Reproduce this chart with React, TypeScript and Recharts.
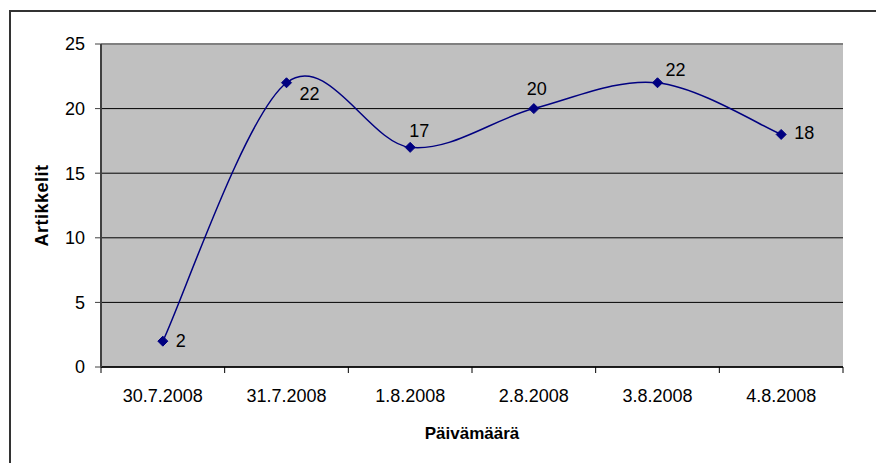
import { LineChart, Line, XAxis, YAxis, CartesianGrid, ReferenceLine, Label } from 'recharts'

const dates = ['30.7.2008', '31.7.2008', '1.8.2008', '2.8.2008', '3.8.2008', '4.8.2008']
const articles = [2, 22, 17, 20, 22, 18]
const yTicks = [0, 5, 10, 15, 20, 25]

const data = dates.map((d, i) => ({ date: d, articles: articles[i] }))

// label nudges so the numbers sit roughly where Excel put them
const labelOffsets = [
  [18, 0],
  [23, 11],
  [9, -16],
  [3, -20],
  [18, -13],
  [23, -1],
]

const W = 876
const H = 455
const MARGIN = { top: 36, right: 41, bottom: 0, left: 0 }
const Y_W = 93
const X_H = 96
const PLOT_W = W - MARGIN.left - MARGIN.right - Y_W
const BAND = PLOT_W / dates.length
const FONT = '"Liberation Sans", Arial, sans-serif'

// Excel style smoothed line (catmull-rom like bezier)
const excelSmooth = (context: any) => {
  let pts: [number, number][] = []
  return {
    areaStart() {},
    areaEnd() {},
    lineStart() {
      pts = []
    },
    point(x: number, y: number) {
      pts.push([+x, +y])
    },
    lineEnd() {
      if (!pts.length) return
      context.moveTo(pts[0][0], pts[0][1])
      for (let i = 0; i < pts.length - 1; i++) {
        const p0 = pts[Math.max(0, i - 1)]
        const p1 = pts[i]
        const p2 = pts[i + 1]
        const p3 = pts[Math.min(pts.length - 1, i + 2)]
        context.bezierCurveTo(
          p1[0] + (p2[0] - p0[0]) / 6,
          p1[1] + (p2[1] - p0[1]) / 6,
          p2[0] - (p3[0] - p1[0]) / 6,
          p2[1] - (p3[1] - p1[1]) / 6,
          p2[0],
          p2[1]
        )
      }
    },
  }
}

const Diamond = (props: any) => {
  const { cx, cy } = props
  if (cx == null || cy == null) return null
  const r = 5
  return (
    <polygon
      points={`${cx},${cy - r} ${cx + r},${cy} ${cx},${cy + r} ${cx - r},${cy}`}
      fill="#000080"
      stroke="#000080"
    />
  )
}

const PointLabel = (props: any) => {
  const { x, y, value, index } = props
  const [dx, dy] = labelOffsets[index] || [0, 0]
  return (
    <text
      x={x + dx}
      y={y + dy}
      textAnchor="middle"
      dominantBaseline="central"
      fontSize={18}
      fontFamily={FONT}
      fill="#000"
    >
      {value}
    </text>
  )
}

const DateTick = (props: any) => {
  const { x, y, payload, index } = props
  return (
    <g>
      <line x1={x - BAND / 2} y1={y} x2={x - BAND / 2} y2={y + 6} stroke="#000" />
      {index === dates.length - 1 && (
        <line x1={x + BAND / 2} y1={y} x2={x + BAND / 2} y2={y + 6} stroke="#000" />
      )}
      <text x={x} y={y + 22} dy="0.71em" textAnchor="middle" fontSize={18} fontFamily={FONT} fill="#000">
        {payload.value}
      </text>
    </g>
  )
}

export default function App() {
  return (
    <div style={{ position: 'relative', width: W, height: H, background: '#fff' }}>
      <div
        style={{
          position: 'absolute',
          left: 1,
          top: 2,
          width: 875,
          height: 453,
          boxSizing: 'border-box',
          borderTop: '2px solid #333',
          borderLeft: '2px solid #333',
        }}
      />
      <div style={{ position: 'absolute', left: 0, top: 0 }}>
        <LineChart width={W} height={H} data={data} margin={MARGIN}>
          <CartesianGrid vertical={false} stroke="#000" fill="#C0C0C0" fillOpacity={1} />
          <XAxis
            dataKey="date"
            height={X_H}
            padding={{ left: BAND / 2, right: BAND / 2 }}
            axisLine={{ stroke: '#000', strokeWidth: 1.5 }}
            tickLine={false}
            tickSize={0}
            tickMargin={0}
            tick={<DateTick />}
            interval={0}
          >
            <Label
              content={(p: any) => {
                const vb = p.viewBox
                return (
                  <text
                    x={MARGIN.left + Y_W + PLOT_W / 2}
                    y={vb.y + 66}
                    textAnchor="middle"
                    dominantBaseline="central"
                    fontSize={17}
                    fontWeight="bold"
                    fontFamily={FONT}
                    fill="#000"
                  >
                    Päivämäärä
                  </text>
                )
              }}
            />
          </XAxis>
          <YAxis
            width={Y_W}
            domain={[0, 25]}
            ticks={yTicks}
            interval={0}
            axisLine={{ stroke: '#404040', strokeWidth: 2 }}
            tickLine={{ stroke: '#404040' }}
            tickSize={6}
            tickMargin={10}
            tick={{ fontSize: 18, fontFamily: FONT, fill: '#000' }}
          >
            <Label
              content={(p: any) => {
                const vb = p.viewBox
                const cx = 34
                const cy = vb.y + vb.height / 2
                return (
                  <text
                    x={cx}
                    y={cy}
                    transform={`rotate(-90 ${cx} ${cy})`}
                    textAnchor="middle"
                    dominantBaseline="central"
                    fontSize={18}
                    fontWeight="bold"
                    fontFamily={FONT}
                    letterSpacing={0.5}
                    fill="#000"
                  >
                    Artikkelit
                  </text>
                )
              }}
            />
          </YAxis>
          <YAxis yAxisId="edge" orientation="right" width={0} tick={false} tickLine={false} axisLine={{ stroke: '#808080', strokeWidth: 2 }} />
          <ReferenceLine y={25} stroke="#808080" strokeWidth={2} />
          <Line
            type={excelSmooth as any}
            dataKey="articles"
            stroke="#000080"
            strokeWidth={1.5}
            dot={<Diamond />}
            activeDot={false}
            label={<PointLabel />}
            isAnimationActive={false}
          />
        </LineChart>
      </div>
    </div>
  )
}
